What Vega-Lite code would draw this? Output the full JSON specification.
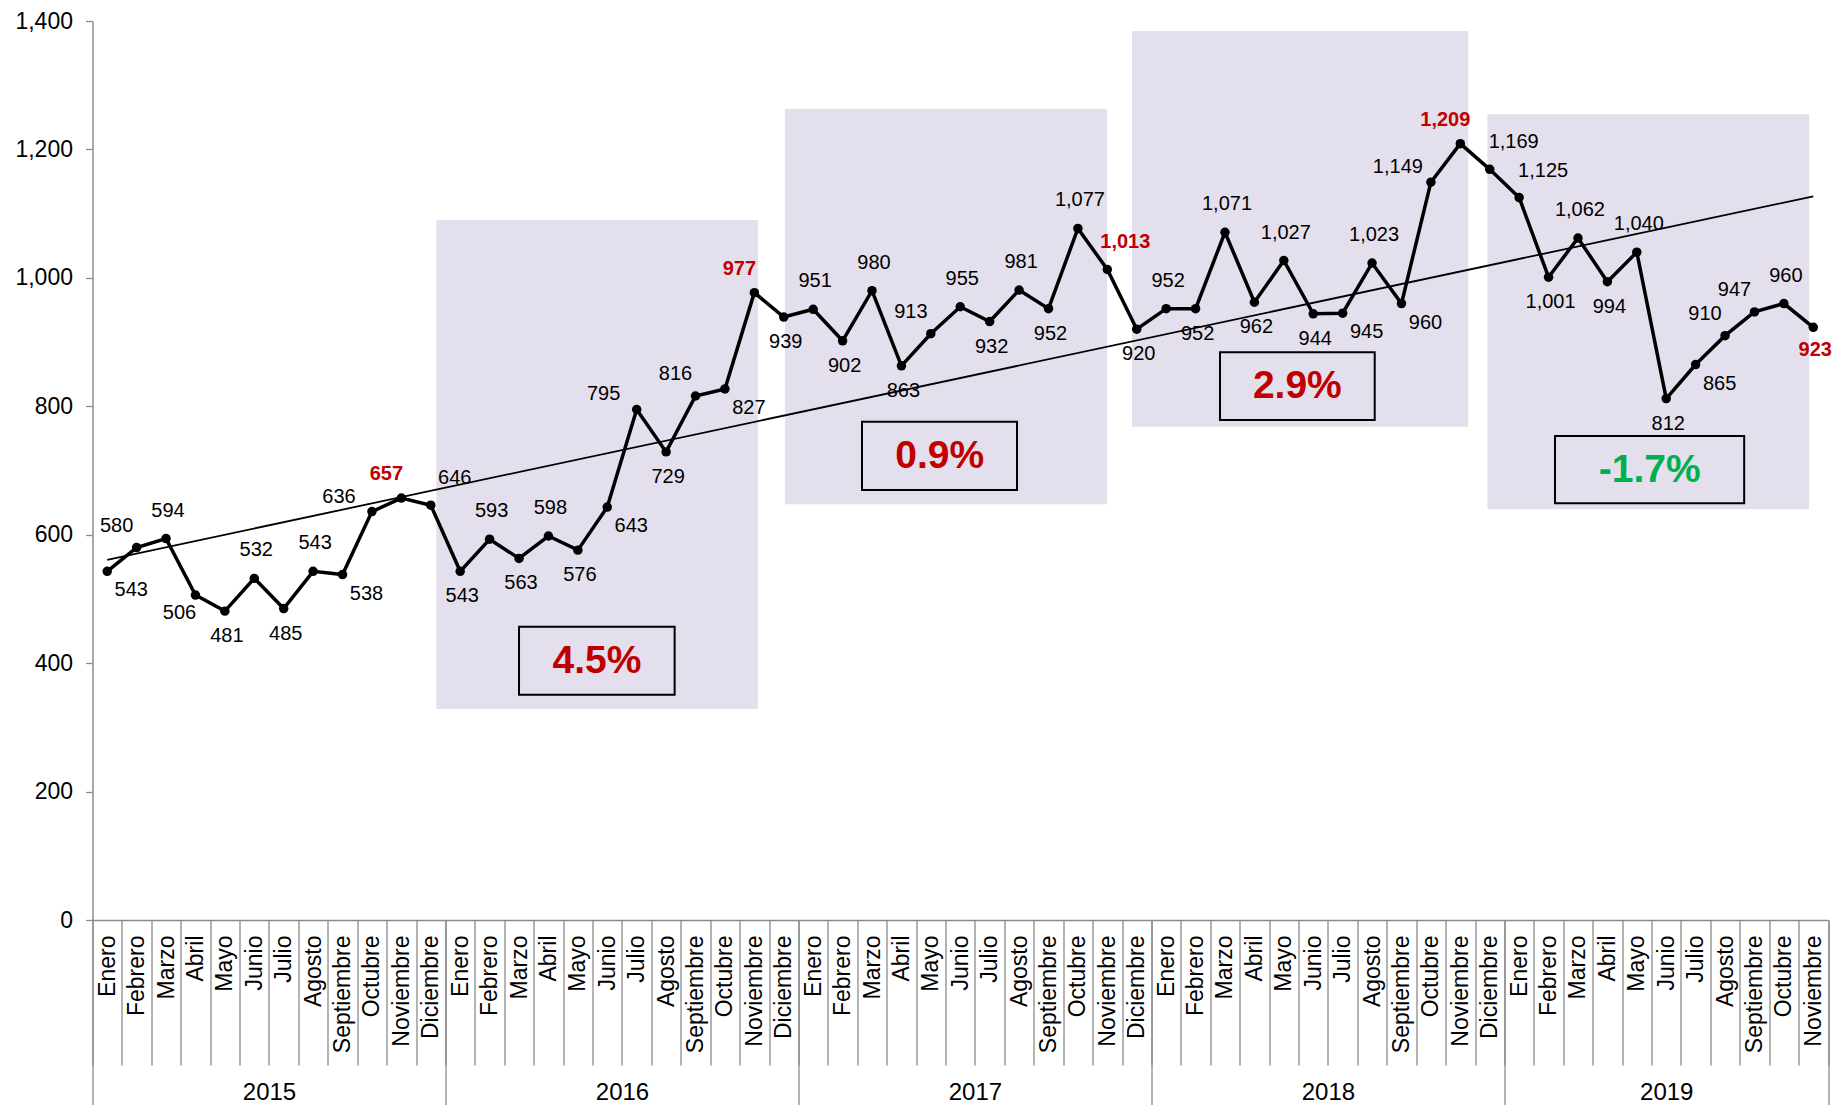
{
  "$schema": "https://vega.github.io/schema/vega-lite/v6.json",
  "width": 1735.5,
  "height": 899,
  "autosize": {"type": "none"},
  "padding": {"left": 92.5, "top": 21, "right": 7, "bottom": 185},
  "background": "white",
  "config": {"font": "Liberation Sans", "view": {"stroke": null}},
  "datasets": {
    "series": [
      {"i": 0, "year": "2015", "month": "Enero", "v": 543},
      {"i": 1, "year": "2015", "month": "Febrero", "v": 580},
      {"i": 2, "year": "2015", "month": "Marzo", "v": 594},
      {"i": 3, "year": "2015", "month": "Abril", "v": 506},
      {"i": 4, "year": "2015", "month": "Mayo", "v": 481},
      {"i": 5, "year": "2015", "month": "Junio", "v": 532},
      {"i": 6, "year": "2015", "month": "Julio", "v": 485},
      {"i": 7, "year": "2015", "month": "Agosto", "v": 543},
      {"i": 8, "year": "2015", "month": "Septiembre", "v": 538},
      {"i": 9, "year": "2015", "month": "Octubre", "v": 636},
      {"i": 10, "year": "2015", "month": "Noviembre", "v": 657},
      {"i": 11, "year": "2015", "month": "Diciembre", "v": 646},
      {"i": 12, "year": "2016", "month": "Enero", "v": 543},
      {"i": 13, "year": "2016", "month": "Febrero", "v": 593},
      {"i": 14, "year": "2016", "month": "Marzo", "v": 563},
      {"i": 15, "year": "2016", "month": "Abril", "v": 598},
      {"i": 16, "year": "2016", "month": "Mayo", "v": 576},
      {"i": 17, "year": "2016", "month": "Junio", "v": 643},
      {"i": 18, "year": "2016", "month": "Julio", "v": 795},
      {"i": 19, "year": "2016", "month": "Agosto", "v": 729},
      {"i": 20, "year": "2016", "month": "Septiembre", "v": 816},
      {"i": 21, "year": "2016", "month": "Octubre", "v": 827},
      {"i": 22, "year": "2016", "month": "Noviembre", "v": 977},
      {"i": 23, "year": "2016", "month": "Diciembre", "v": 939},
      {"i": 24, "year": "2017", "month": "Enero", "v": 951},
      {"i": 25, "year": "2017", "month": "Febrero", "v": 902},
      {"i": 26, "year": "2017", "month": "Marzo", "v": 980},
      {"i": 27, "year": "2017", "month": "Abril", "v": 863},
      {"i": 28, "year": "2017", "month": "Mayo", "v": 913},
      {"i": 29, "year": "2017", "month": "Junio", "v": 955},
      {"i": 30, "year": "2017", "month": "Julio", "v": 932},
      {"i": 31, "year": "2017", "month": "Agosto", "v": 981},
      {"i": 32, "year": "2017", "month": "Septiembre", "v": 952},
      {"i": 33, "year": "2017", "month": "Octubre", "v": 1077},
      {"i": 34, "year": "2017", "month": "Noviembre", "v": 1013},
      {"i": 35, "year": "2017", "month": "Diciembre", "v": 920},
      {"i": 36, "year": "2018", "month": "Enero", "v": 952},
      {"i": 37, "year": "2018", "month": "Febrero", "v": 952},
      {"i": 38, "year": "2018", "month": "Marzo", "v": 1071},
      {"i": 39, "year": "2018", "month": "Abril", "v": 962},
      {"i": 40, "year": "2018", "month": "Mayo", "v": 1027},
      {"i": 41, "year": "2018", "month": "Junio", "v": 944},
      {"i": 42, "year": "2018", "month": "Julio", "v": 945},
      {"i": 43, "year": "2018", "month": "Agosto", "v": 1023},
      {"i": 44, "year": "2018", "month": "Septiembre", "v": 960},
      {"i": 45, "year": "2018", "month": "Octubre", "v": 1149},
      {"i": 46, "year": "2018", "month": "Noviembre", "v": 1209},
      {"i": 47, "year": "2018", "month": "Diciembre", "v": 1169},
      {"i": 48, "year": "2019", "month": "Enero", "v": 1125},
      {"i": 49, "year": "2019", "month": "Febrero", "v": 1001},
      {"i": 50, "year": "2019", "month": "Marzo", "v": 1062},
      {"i": 51, "year": "2019", "month": "Abril", "v": 994},
      {"i": 52, "year": "2019", "month": "Mayo", "v": 1040},
      {"i": 53, "year": "2019", "month": "Junio", "v": 812},
      {"i": 54, "year": "2019", "month": "Julio", "v": 865},
      {"i": 55, "year": "2019", "month": "Agosto", "v": 910},
      {"i": 56, "year": "2019", "month": "Septiembre", "v": 947},
      {"i": 57, "year": "2019", "month": "Octubre", "v": 960},
      {"i": 58, "year": "2019", "month": "Noviembre", "v": 923}
    ],
    "bands": [
      {"year": "2016", "x": 11.19, "x2": 22.12, "y": 328.6, "y2": 1090, "pct": "4.5%", "bx": 14.0, "bx2": 19.29, "by": 350.7, "by2": 456.8, "tx": 16.65, "ty": 403.7},
      {"year": "2017", "x": 23.04, "x2": 33.99, "y": 647.4, "y2": 1263.3, "pct": "0.9%", "bx": 25.66, "bx2": 30.93, "by": 669.6, "by2": 776, "tx": 28.3, "ty": 722.8},
      {"year": "2018", "x": 34.84, "x2": 46.27, "y": 768.2, "y2": 1384.5, "pct": "2.9%", "bx": 37.83, "bx2": 43.09, "by": 778.5, "by2": 884, "tx": 40.46, "ty": 831.2},
      {"year": "2019", "x": 46.92, "x2": 57.86, "y": 639.6, "y2": 1254.7, "pct": "-1.7%", "bx": 49.22, "bx2": 55.65, "by": 648.9, "by2": 753.7, "tx": 52.44, "ty": 701.3}
    ],
    "trend": [
      {"i": 0, "t": 561},
      {"i": 58, "t": 1127}
    ]
  },
  "resolve": {"scale": {"x": "shared", "y": "shared"}, "axis": {"x": "independent", "y": "independent"}},
  "layer": [
    {
      "data": {"name": "bands"},
      "mark": {"type": "rect", "fill": "#E4DFEC"},
      "encoding": {
        "x": {"field": "x", "type": "quantitative", "title": null,
          "scale": {"domain": [-0.5, 58.5], "nice": false, "zero": false},
          "axis": {"orient": "bottom", "values": [-0.5,0.5,1.5,2.5,3.5,4.5,5.5,6.5,7.5,8.5,9.5,10.5,11.5,12.5,13.5,14.5,15.5,16.5,17.5,18.5,19.5,20.5,21.5,22.5,23.5,24.5,25.5,26.5,27.5,28.5,29.5,30.5,31.5,32.5,33.5,34.5,35.5,36.5,37.5,38.5,39.5,40.5,41.5,42.5,43.5,44.5,45.5,46.5,47.5,48.5,49.5,50.5,51.5,52.5,53.5,54.5,55.5,56.5,57.5,58.5],
            "labels": false, "domain": false, "grid": false, "ticks": true, "tickSize": 145, "tickColor": "#8c8c8c", "tickWidth": 1.3}},
        "x2": {"field": "x2"},
        "y": {"field": "y", "type": "quantitative", "title": null,
          "scale": {"domain": [0, 1400], "nice": false, "zero": true},
          "axis": {"orient": "left", "values": [0,200,400,600,800,1000,1200,1400], "labelExpr": "format(datum.value, ',')", "grid": false,
            "labelFontSize": 23, "labelColor": "#000000", "labelPadding": 13,
            "tickSize": 7, "tickColor": "#8c8c8c", "tickWidth": 1.3,
            "domainColor": "#8c8c8c", "domainWidth": 1.5, "title": null}},
        "y2": {"field": "y2"}
      }
    },
    {
      "data": {"name": "trend"},
      "mark": {"type": "line", "color": "#000000", "strokeWidth": 1.8},
      "encoding": {
        "x": {"field": "i", "type": "quantitative", "title": null,
          "axis": {"orient": "bottom", "values": [-0.5, 11.5, 23.5, 35.5, 47.5, 58.5], "labels": false, "domain": false, "grid": false,
            "ticks": true, "tickSize": 190, "tickColor": "#8c8c8c", "tickWidth": 1.3}},
        "y": {"field": "t", "type": "quantitative", "title": null, "axis": null}
      }
    },
    {
      "data": {"name": "series"},
      "mark": {"type": "line", "color": "#000000", "strokeWidth": 3.5},
      "encoding": {
        "x": {"field": "i", "type": "quantitative", "title": null,
          "axis": {"orient": "bottom", "values": [0,1,2,3,4,5,6,7,8,9,10,11,12,13,14,15,16,17,18,19,20,21,22,23,24,25,26,27,28,29,30,31,32,33,34,35,36,37,38,39,40,41,42,43,44,45,46,47,48,49,50,51,52,53,54,55,56,57,58],
            "labelExpr": "['Enero','Febrero','Marzo','Abril','Mayo','Junio','Julio','Agosto','Septiembre','Octubre','Noviembre','Diciembre'][datum.value % 12]",
            "labelAngle": 270, "labelFontSize": 23, "labelColor": "#000000", "labelPadding": 15,
            "labelOverlap": false, "labelFlush": false, "labelBound": false,
            "ticks": false, "grid": false, "domain": true, "domainColor": "#8c8c8c", "domainWidth": 1.5}},
        "y": {"field": "v", "type": "quantitative", "title": null, "axis": null}
      }
    },
    {
      "data": {"name": "series"},
      "mark": {"type": "point", "filled": true, "color": "#000000", "size": 90, "opacity": 1},
      "encoding": {
        "x": {"field": "i", "type": "quantitative", "title": null, "axis": null},
        "y": {"field": "v", "type": "quantitative", "title": null, "axis": null}
      }
    },
    {
      "data": {"name": "series"},
      "transform": [{"filter": {"field": "i", "oneOf": [2,5,7,13,15,24,26,29,31,33,36,38,40,43,50,52,57]}}],
      "mark": {"type": "text", "fontSize": 20, "color": "#000000", "dx": 2, "dy": -28},
      "encoding": {
        "x": {"field": "i", "type": "quantitative", "title": null, "axis": null},
        "y": {"field": "v", "type": "quantitative", "title": null, "axis": null},
        "text": {"field": "v", "type": "quantitative", "format": ","}
      }
    },
    {
      "data": {"name": "series"},
      "transform": [{"filter": {"field": "i", "oneOf": [4,6,12,14,16,19,23,25,27,30,32,35,37,39,41,49,51,53]}}],
      "mark": {"type": "text", "fontSize": 20, "color": "#000000", "dx": 2, "dy": 25},
      "encoding": {
        "x": {"field": "i", "type": "quantitative", "title": null, "axis": null},
        "y": {"field": "v", "type": "quantitative", "title": null, "axis": null},
        "text": {"field": "v", "type": "quantitative", "format": ","}
      }
    },
    {
      "data": {"name": "series"},
      "transform": [{"filter": {"field": "i", "oneOf": [1,20,28,55,56]}}],
      "mark": {"type": "text", "fontSize": 20, "color": "#000000", "dx": -20, "dy": -22},
      "encoding": {
        "x": {"field": "i", "type": "quantitative", "title": null, "axis": null},
        "y": {"field": "v", "type": "quantitative", "title": null, "axis": null},
        "text": {"field": "v", "type": "quantitative", "format": ","}
      }
    },
    {
      "data": {"name": "series"},
      "transform": [{"filter": {"field": "i", "oneOf": [9,18,45]}}],
      "mark": {"type": "text", "fontSize": 20, "color": "#000000", "dx": -33, "dy": -15},
      "encoding": {
        "x": {"field": "i", "type": "quantitative", "title": null, "axis": null},
        "y": {"field": "v", "type": "quantitative", "title": null, "axis": null},
        "text": {"field": "v", "type": "quantitative", "format": ","}
      }
    },
    {
      "data": {"name": "series"},
      "transform": [{"filter": {"field": "i", "oneOf": [0,8,17,21,42,44,54]}}],
      "mark": {"type": "text", "fontSize": 20, "color": "#000000", "dx": 24, "dy": 19},
      "encoding": {
        "x": {"field": "i", "type": "quantitative", "title": null, "axis": null},
        "y": {"field": "v", "type": "quantitative", "title": null, "axis": null},
        "text": {"field": "v", "type": "quantitative", "format": ","}
      }
    },
    {
      "data": {"name": "series"},
      "transform": [{"filter": {"field": "i", "oneOf": [11,47,48]}}],
      "mark": {"type": "text", "fontSize": 20, "color": "#000000", "dx": 24, "dy": -27},
      "encoding": {
        "x": {"field": "i", "type": "quantitative", "title": null, "axis": null},
        "y": {"field": "v", "type": "quantitative", "title": null, "axis": null},
        "text": {"field": "v", "type": "quantitative", "format": ","}
      }
    },
    {
      "data": {"name": "series"},
      "transform": [{"filter": {"field": "i", "oneOf": [3]}}],
      "mark": {"type": "text", "fontSize": 20, "color": "#000000", "dx": -16, "dy": 18},
      "encoding": {
        "x": {"field": "i", "type": "quantitative", "title": null, "axis": null},
        "y": {"field": "v", "type": "quantitative", "title": null, "axis": null},
        "text": {"field": "v", "type": "quantitative", "format": ","}
      }
    },
    {
      "data": {"name": "series"},
      "transform": [{"filter": {"field": "i", "oneOf": [10,22,46]}}],
      "mark": {"type": "text", "fontSize": 20, "fontWeight": "bold", "color": "#C00000", "dx": -15, "dy": -24},
      "encoding": {
        "x": {"field": "i", "type": "quantitative", "title": null, "axis": null},
        "y": {"field": "v", "type": "quantitative", "title": null, "axis": null},
        "text": {"field": "v", "type": "quantitative", "format": ","}
      }
    },
    {
      "data": {"name": "series"},
      "transform": [{"filter": {"field": "i", "oneOf": [34]}}],
      "mark": {"type": "text", "fontSize": 20, "fontWeight": "bold", "color": "#C00000", "dx": 18, "dy": -28},
      "encoding": {
        "x": {"field": "i", "type": "quantitative", "title": null, "axis": null},
        "y": {"field": "v", "type": "quantitative", "title": null, "axis": null},
        "text": {"field": "v", "type": "quantitative", "format": ","}
      }
    },
    {
      "data": {"name": "series"},
      "transform": [{"filter": {"field": "i", "oneOf": [58]}}],
      "mark": {"type": "text", "fontSize": 20, "fontWeight": "bold", "color": "#C00000", "dx": 2, "dy": 23},
      "encoding": {
        "x": {"field": "i", "type": "quantitative", "title": null, "axis": null},
        "y": {"field": "v", "type": "quantitative", "title": null, "axis": null},
        "text": {"field": "v", "type": "quantitative", "format": ","}
      }
    },
    {
      "data": {"name": "bands"},
      "mark": {"type": "rect", "fill": "#E4DFEC", "fillOpacity": 0, "stroke": "#000000", "strokeWidth": 2},
      "encoding": {
        "x": {"field": "bx", "type": "quantitative", "title": null, "axis": null},
        "x2": {"field": "bx2"},
        "y": {"field": "by", "type": "quantitative", "title": null, "axis": null},
        "y2": {"field": "by2"}
      }
    },
    {
      "data": {"name": "bands"},
      "mark": {"type": "text", "fontSize": 39, "fontWeight": "bold", "align": "center", "baseline": "middle"},
      "encoding": {
        "x": {"field": "tx", "type": "quantitative", "title": null,
          "axis": {"orient": "bottom", "values": [5.5, 17.5, 29.5, 41.5, 53],
            "labelExpr": "datum.value < 10 ? '2015' : datum.value < 20 ? '2016' : datum.value < 35 ? '2017' : datum.value < 45 ? '2018' : '2019'",
            "labelFontSize": 24, "labelColor": "#000000", "labelPadding": 160, "labelAngle": 0,
            "labelOverlap": false, "labelFlush": false, "labelBound": false,
            "ticks": false, "grid": false, "domain": false}},
        "y": {"field": "ty", "type": "quantitative", "title": null, "axis": null},
        "text": {"field": "pct"},
        "color": {"condition": {"test": "indexof(datum.pct, '-') == 0", "value": "#00B050"}, "value": "#C00000"}
      }
    }
  ]
}
